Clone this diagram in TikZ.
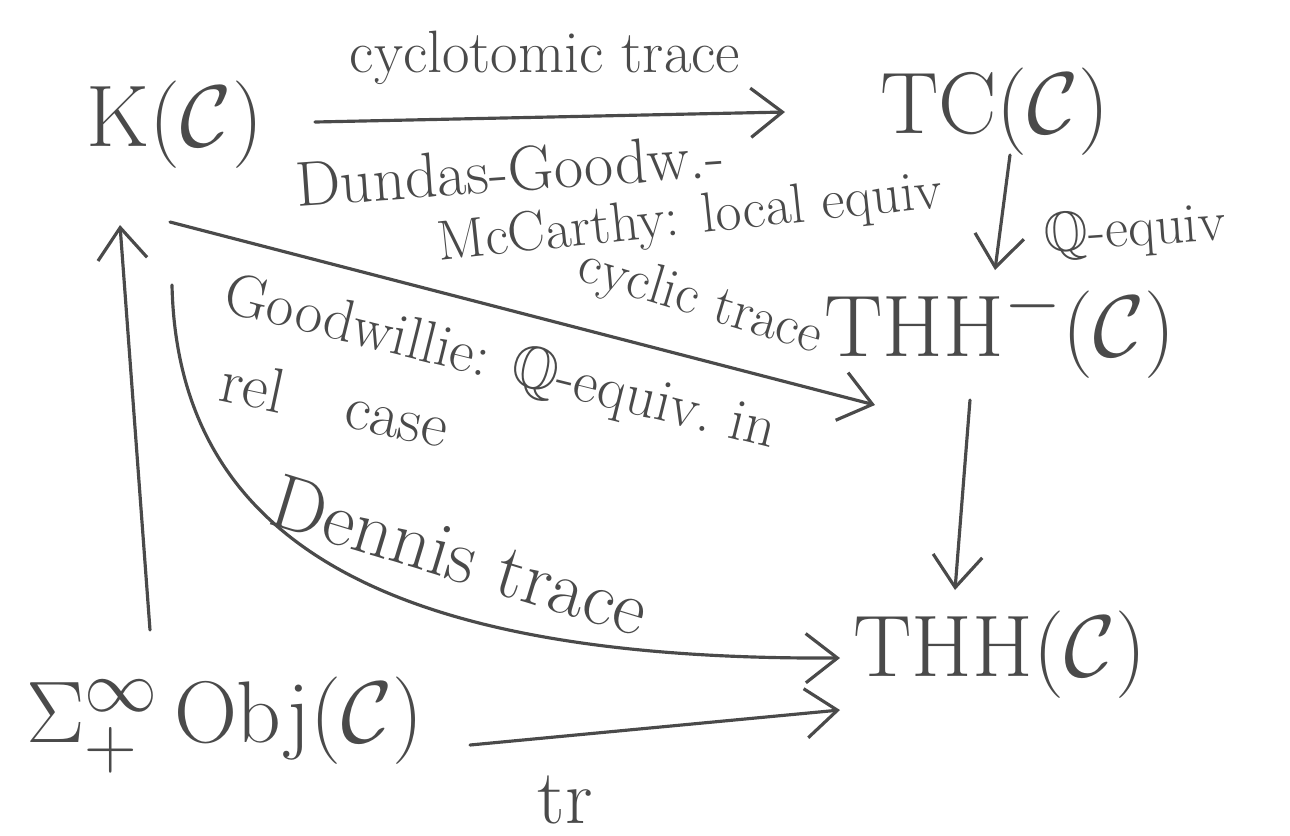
\documentclass[tikz,border=0pt]{standalone}
\usepackage{amssymb}
\usetikzlibrary{arrows.meta,calc}
\definecolor{ink}{HTML}{4A4A4A}
\begin{document}
\begin{tikzpicture}[x=0.01cm,y=-0.01cm,
  obj/.style={inner sep=0pt, text=ink, font=\fontsize{28}{32}\selectfont},
  lbl/.style={inner sep=0pt, text=ink, font=\fontsize{15}{18}\selectfont},
  arr/.style={draw=ink, line width=0.9pt, line cap=round, -{Straight Barb[length=9pt,width=14pt]}}]
\useasboundingbox (0,0) rectangle (1290,835);
% objects
\node[obj] (K) at (175,125) {$\mathrm{K}(\mathcal{C})$};
\node[obj, font=\fontsize{34}{38}\selectfont] (TC) at (995,112) {$\mathrm{TC}(\mathcal{C})$};
\node[obj] (THHm) at (1000,330) {$\mathrm{THH}^{-}(\mathcal{C})$};
\node[obj] (THH) at (1000,655) {$\mathrm{THH}(\mathcal{C})$};
\node[obj] (S) at (225,725) {$\Sigma^{\infty}_{+}\,\mathrm{Obj}(\mathcal{C})$};
% arrows
\draw[arr] ($(K)+(140,-3)$) -- ($(TC)+(-210,0)$);
\draw[arr] ($(TC)+(15,43)$) -- ($(THHm)+(-5,-60)$);
\draw[arr] ($(K)+(-5,97)$) -- ($(THHm)+(-125,75)$);
\draw[arr] ($(THHm)+(-30,70)$) -- ($(THH)+(-45,-65)$);
\draw[arr] ($(K)+(-3,160)$) .. controls (178,560) and (420,660) .. ($(THH)+(-160,3)$);
\draw[arr] ($(S)+(-75,-95)$) -- ($(K)+(-55,100)$);
\draw[arr] ($(S)+(245,20)$) -- ($(THH)+(-160,55)$);
% labels
\node[lbl, font=\fontsize{17}{20}\selectfont] (l1) at (545,58) {cyclotomic trace};
\node[lbl, font=\fontsize{18}{20}\selectfont, rotate=4] (l2) at (510,170) {Dundas-Goodw.-};
\node[lbl, font=\fontsize{16}{20}\selectfont, rotate=6] (l3) at (690,220) {McCarthy: local equiv};
\node[lbl, font=\fontsize{16}{20}\selectfont, rotate=4] (l4) at (1135,232) {$\mathbb{Q}$-equiv};
\node[lbl, font=\fontsize{16}{20}\selectfont, rotate=-17] (l5) at (700,303) {cyclic trace};
\node[lbl, font=\fontsize{17}{20}\selectfont, rotate=-14] (l6) at (500,365) {Goodwillie: $\mathbb{Q}$-equiv.\ in};
\node[lbl, font=\fontsize{18}{20}\selectfont, rotate=-12] (l7) at (335,403) {rel\quad case};
\node[lbl, font=\fontsize{22}{26}\selectfont, rotate=-17] (l8) at (460,555) {Dennis trace};
\node[lbl, font=\fontsize{22}{26}\selectfont] (l9) at (565,800) {tr};
\end{tikzpicture}
\end{document}
